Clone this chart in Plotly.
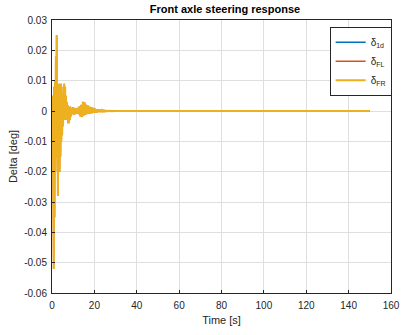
import plotly.graph_objects as go

# Time samples [s] and steering angles [deg]
time_s = [0, 0.2, 0.4, 0.6, 0.8, 1.0, 1.2, 1.4, 1.6, 1.8, 2.0, 2.2, 2.4, 2.6, 2.8,
          3.0, 3.2, 3.4, 3.6, 3.8, 4.0, 4.2, 4.4, 4.6, 4.8, 5.0, 5.2, 5.4, 5.6, 5.8,
          6.0, 6.2, 6.4, 6.6, 6.8, 7.0, 7.2, 7.4, 7.6, 7.8, 8.0, 8.2, 8.4, 8.6, 8.8,
          9.0, 9.4, 9.8, 10.2, 10.6, 11.0, 11.4, 11.8, 12.2, 12.6, 13.0, 13.4, 13.8,
          14.2, 14.6, 15.0, 15.4, 15.8, 16.2, 16.6, 17.0, 17.4, 17.8, 18.2, 18.6,
          19.0, 19.4, 19.8, 20.2, 20.6, 21.0, 21.4, 21.8, 22.2, 22.6, 23.0, 23.5,
          24.0, 24.5, 25.0, 25.5, 26.0, 27.0, 28.0, 30.0, 150.0]

delta_FR = [0, -0.010, 0.005, -0.040, -0.052, 0.008, -0.035, 0.010, -0.020, 0.018,
            -0.015, 0.025, -0.010, 0.009, -0.028, 0.008, -0.018, 0.009, -0.020, 0.007,
            -0.015, 0.009, -0.010, 0.006, -0.008, 0.004, -0.005, 0.008, -0.003, 0.009,
            -0.002, 0.008, -0.003, 0.005, -0.002, 0.003, -0.003, 0.002, -0.004, 0.001,
            -0.004, 0.001, -0.003, 0.0015, -0.002, 0.001, -0.001, 0.0012, -0.0012, 0.001,
            -0.001, 0.0008, -0.0008, 0.001, -0.001, 0.0015, -0.0018, 0.002, -0.002, 0.003,
            -0.0015, 0.0028, -0.0012, 0.002, -0.001, 0.0018, -0.0009, 0.0014, -0.0008,
            0.0012, -0.0007, 0.001, -0.0006, 0.0008, -0.0005, 0.0006, -0.0004, 0.0005,
            -0.0003, 0.0004, -0.0003, 0.0003, -0.0002, 0.0002, -0.00015, 0.00012,
            -0.0001, 0.0001, -0.00005, 0.0, 0.0]

delta_FL = list(delta_FR)
delta_1d = [0.0 for _ in time_s]

fig = go.Figure()
fig.add_trace(go.Scatter(x=time_s, y=delta_1d, mode="lines", name="δ<sub>1d</sub>",
                         line=dict(color="#0072BD", width=1.5)))
fig.add_trace(go.Scatter(x=time_s, y=delta_FL, mode="lines", name="δ<sub>FL</sub>",
                         line=dict(color="#D95319", width=1.5)))
fig.add_trace(go.Scatter(x=time_s, y=delta_FR, mode="lines", name="δ<sub>FR</sub>",
                         line=dict(color="#EDB120", width=2)))

y_ticks = [-0.06, -0.05, -0.04, -0.03, -0.02, -0.01, 0, 0.01, 0.02, 0.03]
y_labels = ["-0.06", "-0.05", "-0.04", "-0.03", "-0.02", "-0.01", "0", "0.01", "0.02", "0.03"]
x_ticks = [0, 20, 40, 60, 80, 100, 120, 140, 160]

fig.update_layout(
    width=409, height=335,
    margin=dict(l=52, r=9, t=20, b=42),
    paper_bgcolor="white", plot_bgcolor="white",
    font=dict(family="Liberation Sans, Arial, sans-serif", size=10, color="#262626"),
    title=dict(text="<b>Front axle steering response</b>", x=0.55, xanchor="center",
               y=0.985, yanchor="top", font=dict(size=11, color="#000000")),
    showlegend=True,
    legend=dict(x=0.819, y=0.975, xanchor="left", yanchor="top",
                bordercolor="#262626", borderwidth=1, bgcolor="white",
                font=dict(size=10), tracegroupgap=0),
)
fig.update_xaxes(range=[0, 160], tickvals=x_ticks, showgrid=True, gridcolor="#DFDFDF",
                 zeroline=False, showline=True, linecolor="#262626", linewidth=1, mirror=True,
                 ticks="inside", ticklen=3, tickcolor="#262626", ticklabelstandoff=3,
                 title=dict(text="Time [s]", font=dict(size=11), standoff=6))
fig.update_yaxes(range=[-0.06, 0.03], tickvals=y_ticks, ticktext=y_labels, showgrid=True,
                 gridcolor="#DFDFDF", zeroline=False, showline=True, linecolor="#262626",
                 linewidth=1, mirror=True, ticks="inside", ticklen=3, tickcolor="#262626",
                 ticklabelstandoff=2,
                 title=dict(text="Delta [deg]", font=dict(size=11), standoff=4))

fig.write_html("out.html")
